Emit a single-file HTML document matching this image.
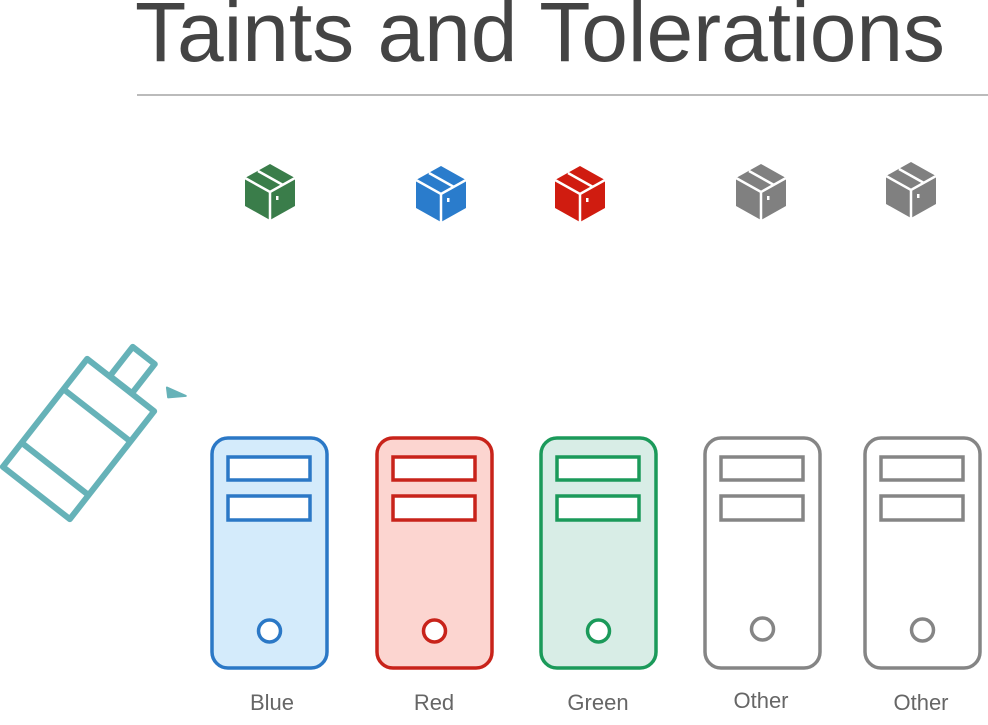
<!DOCTYPE html>
<html><head><meta charset="utf-8"><style>html,body{margin:0;padding:0;background:#fff}svg{display:block}</style></head>
<body>
<svg width="988" height="725" viewBox="0 0 988 725" xmlns="http://www.w3.org/2000/svg">
<defs>
<g id="cube">
<polygon points="0,-28 25,-14 25,14 0,28 -25,14 -25,-14"/>
<g fill="none" stroke="#fff" stroke-width="2.5">
<polyline points="-25,-14 0,0 25,-14"/>
<line x1="0" y1="0" x2="0" y2="28"/>
<line x1="-12" y1="-21" x2="13" y2="-7"/>
</g>
<rect x="6" y="4" width="2.5" height="4" fill="#fff"/>
</g>
</defs>
<text x="135" y="61" font-family="Liberation Sans, sans-serif" font-size="84" fill="#444" textLength="810" lengthAdjust="spacingAndGlyphs">Taints and Tolerations</text>
<line x1="137" y1="95" x2="988" y2="95" stroke="#bbb" stroke-width="2"/>
<use href="#cube" x="270" y="192" fill="#3a7d4a"/>
<use href="#cube" x="441" y="194" fill="#2a7ccc"/>
<use href="#cube" x="580" y="194" fill="#d01c10"/>
<use href="#cube" x="761" y="192" fill="#808080"/>
<use href="#cube" x="911" y="190" fill="#808080"/>
<g transform="translate(78.5,439) rotate(38)" fill="none" stroke="#66b2b8" stroke-width="6" stroke-linejoin="round">
<rect x="-42.5" y="-68.5" width="85" height="137"/>
<line x1="-42.5" y1="-30" x2="42.5" y2="-30"/>
<line x1="-42.5" y1="38" x2="42.5" y2="38"/>
<rect x="-14" y="-106" width="28" height="37"/>
<polygon points="38,-95 58,-100 45,-88" fill="#66b2b8" stroke-width="2"/>
</g>
<g stroke-width="3.5">
<g stroke="#2b78c6" fill="#d4ebfb">
<rect x="212" y="438" width="115" height="230" rx="16"/>
<rect x="228" y="457" width="82" height="23" fill="#fff"/><rect x="228" y="496" width="82" height="24" fill="#fff"/>
<circle cx="269.5" cy="631" r="11" fill="#fff"/></g>
<g stroke="#c8231a" fill="#fcd5d0">
<rect x="377" y="438" width="115" height="230" rx="16"/>
<rect x="393" y="457" width="82" height="23" fill="#fff"/><rect x="393" y="496" width="82" height="24" fill="#fff"/>
<circle cx="434.5" cy="631" r="11" fill="#fff"/></g>
<g stroke="#1b9a5a" fill="#d8ede6">
<rect x="541" y="438" width="115" height="230" rx="16"/>
<rect x="557" y="457" width="82" height="23" fill="#fff"/><rect x="557" y="496" width="82" height="24" fill="#fff"/>
<circle cx="598.5" cy="631" r="11" fill="#fff"/></g>
<g stroke="#858585" fill="#fff">
<rect x="705" y="438" width="115" height="230" rx="16"/>
<rect x="721" y="457" width="82" height="23"/><rect x="721" y="496" width="82" height="24"/>
<circle cx="762.5" cy="629" r="11"/></g>
<g stroke="#858585" fill="#fff">
<rect x="865" y="438" width="115" height="230" rx="16"/>
<rect x="881" y="457" width="82" height="23"/><rect x="881" y="496" width="82" height="24"/>
<circle cx="922.5" cy="630" r="11"/></g>
</g>
<g font-family="Liberation Sans, sans-serif" font-size="22" fill="#666" text-anchor="middle">
<text x="272" y="710">Blue</text>
<text x="434" y="710">Red</text>
<text x="598" y="710">Green</text>
<text x="761" y="708">Other</text>
<text x="921" y="710">Other</text>
</g>
</svg>
</body></html>
